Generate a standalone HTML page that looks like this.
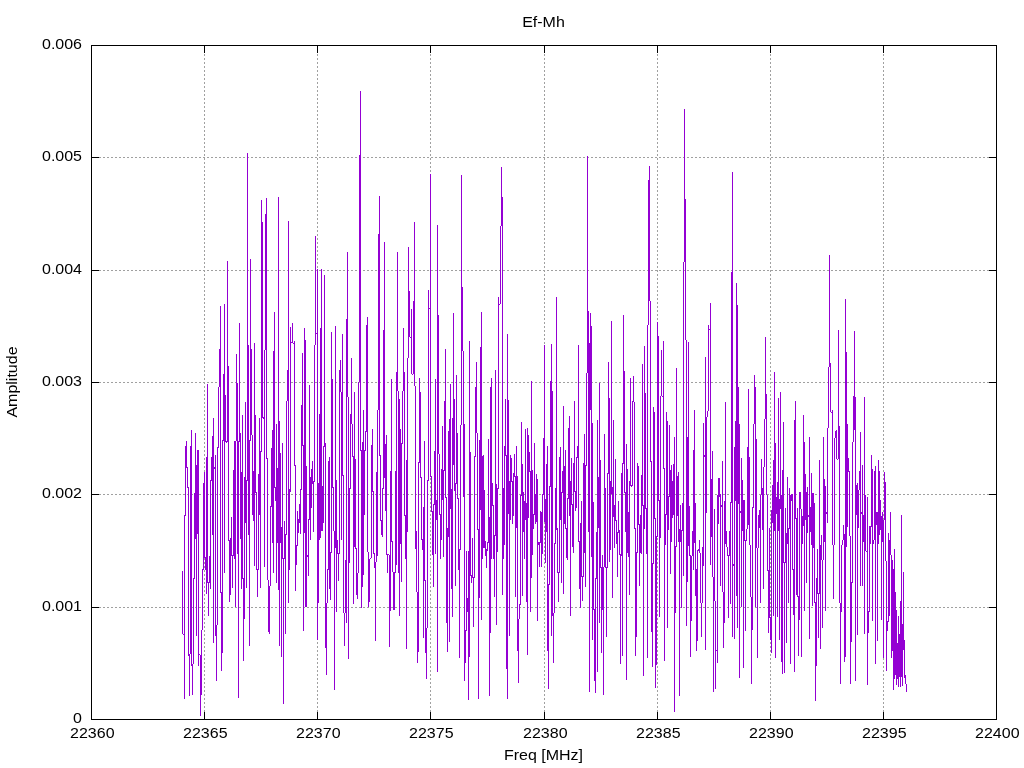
<!DOCTYPE html><html><head><meta charset="utf-8"><title>Ef-Mh</title><style>html,body{margin:0;padding:0;background:#fff;}svg{display:block;}text{font-family:"Liberation Sans",Arial,sans-serif;font-size:16px;fill:#000;}</style></head><body><svg width="1024" height="768" viewBox="0 0 1024 768"><rect width="1024" height="768" fill="#fff"/><path d="M204.5 720V45M317.5 720V45M430.5 720V45M544.5 720V45M657.5 720V45M770.5 720V45M883.5 720V45M91 607.5H997M91 494.5H997M91 382.5H997M91 270.5H997M91 157.5H997" stroke="#a0a0a0" stroke-width="1" stroke-dasharray="2 2" fill="none" shape-rendering="crispEdges"/><path d="M182.5 571V634M183.5 634V635M184.5 515V699M185.5 446V516M186.5 441V468M187.5 467V488M188.5 487V656M189.5 654V696M190.5 446V654M191.5 430V666M192.5 664V695M193.5 578V664M194.5 493V579M195.5 433V539M196.5 465V636M197.5 450V534M198.5 450V666M199.5 654V655M200.5 655V716M201.5 630V695M202.5 569V630M203.5 483V570M204.5 472V558M205.5 557V570M206.5 457V594M207.5 384V583M208.5 582V616M209.5 556V583M210.5 480V589M211.5 457V481M212.5 436V535M213.5 418V643M214.5 467V469M215.5 455V636M216.5 625V681M217.5 447V625M218.5 387V448M219.5 349V387M220.5 306V593M221.5 592V671M222.5 440V653M223.5 374V441M224.5 304V573M225.5 395V442M226.5 441V443M227.5 261V442M228.5 366V541M229.5 540V602M230.5 538V595M231.5 517V556M232.5 555V588M233.5 470V556M234.5 441V559M235.5 441V607M236.5 354V441M237.5 383V554M238.5 441V698M239.5 323V442M240.5 433V539M241.5 472V589M242.5 415V579M243.5 578V661M244.5 477V619M245.5 402V523M246.5 480V588M247.5 153V481M248.5 345V535M249.5 440V646M250.5 259V441M251.5 349V435M252.5 435V515M253.5 471V521M254.5 343V566M255.5 415V493M256.5 492V570M257.5 569V597M258.5 474V570M259.5 418V515M260.5 451V588M261.5 200V452M262.5 222V418M263.5 417V419M264.5 350V567M265.5 214V350M266.5 198V459M267.5 458V580M268.5 580V632M269.5 586V634M270.5 506V586M271.5 448V507M272.5 430V543M273.5 351V573M274.5 312V488M275.5 487V501M276.5 424V583M277.5 468V543M278.5 197V590M279.5 421V646M280.5 453V543M281.5 527V657M282.5 443V559M283.5 558V704M284.5 521V559M285.5 534V634M286.5 401V535M287.5 370V401M288.5 221V603M289.5 489V570M290.5 327V492M291.5 342V343M292.5 323V343M293.5 343V344M294.5 341V466M295.5 465V591M296.5 545V565M297.5 511V546M298.5 519V533M299.5 504V523M300.5 489V534M301.5 405V490M302.5 353V446M303.5 445V631M304.5 328V533M305.5 340V607M306.5 466V607M307.5 555V557M308.5 519V576M309.5 385V520M310.5 477V540M311.5 469V508M312.5 461V484M313.5 481V532M314.5 345V482M315.5 236V345M316.5 333V334M317.5 269V640M318.5 483V603M319.5 414V540M320.5 328V538M321.5 269V531M322.5 486V531M323.5 446V523M324.5 275V447M325.5 443V648M326.5 603V675M327.5 569V603M328.5 461V570M329.5 457V589M330.5 552V600M331.5 332V553M332.5 379V488M333.5 487V531M334.5 531V690M335.5 326V548M336.5 480V612M337.5 540V554M338.5 553V581M339.5 370V554M340.5 360V392M341.5 392V540M342.5 334V476M343.5 475V613M344.5 613V646M345.5 560V613M346.5 319V623M347.5 252V397M348.5 397V659M349.5 488V563M350.5 414V489M351.5 358V424M352.5 424V457M353.5 456V604M354.5 392V547M355.5 459V549M356.5 548V595M357.5 573V599M358.5 382V573M359.5 155V382M360.5 91V451M361.5 450V608M362.5 442V587M363.5 410V575M364.5 450V515M365.5 431V451M366.5 325V432M367.5 317V552M368.5 552V607M369.5 559V602M370.5 558V559M371.5 445V558M372.5 429V492M373.5 491V554M374.5 553V568M375.5 562V641M376.5 472V562M377.5 410V556M378.5 234V410M379.5 196V456M380.5 455V521M381.5 520V535M382.5 488V537M383.5 330V489M384.5 242V478M385.5 444V511M386.5 435V555M387.5 554V573M388.5 554V555M389.5 555V647M390.5 471V611M391.5 379V542M392.5 541V572M393.5 572V610M394.5 572V610M395.5 471V573M396.5 372V565M397.5 252V391M398.5 391V573M399.5 399V616M400.5 429V544M401.5 443V582M402.5 391V444M403.5 328V391M404.5 372V516M405.5 515V559M406.5 460V649M407.5 358V532M408.5 247V358M409.5 291V337M410.5 337V338M411.5 309V374M412.5 374V375M413.5 301V374M414.5 222V386M415.5 386V549M416.5 531V592M417.5 592V663M418.5 462V652M419.5 378V463M420.5 392V478M421.5 477V540M422.5 539V550M423.5 507V638M424.5 441V581M425.5 580V653M426.5 628V679M427.5 480V628M428.5 290V481M429.5 308V309M430.5 174V477M431.5 476V512M432.5 511V555M433.5 504V587M434.5 451V505M435.5 379V554M436.5 500V520M437.5 225V672M438.5 315V454M439.5 454V515M440.5 514V559M441.5 469V540M442.5 426V500M443.5 470V557M444.5 401V471M445.5 349V498M446.5 497V623M447.5 528V652M448.5 431V537M449.5 419V642M450.5 384V509M451.5 489V589M452.5 418V617M453.5 313V465M454.5 399V491M455.5 483V586M456.5 375V484M457.5 433V499M458.5 498V570M459.5 549V658M460.5 425V550M461.5 175V425M462.5 287V351M463.5 351V497M464.5 424V681M465.5 630V663M466.5 551V631M467.5 598V612M468.5 551V700M469.5 341V657M470.5 452V576M471.5 575V583M472.5 538V578M473.5 577V627M474.5 456V578M475.5 387V457M476.5 362V433M477.5 433V530M478.5 529V699M479.5 440V598M480.5 347V510M481.5 312V620M482.5 456V559M483.5 455V548M484.5 490V548M485.5 541V556M486.5 549V568M487.5 542V551M488.5 439V543M489.5 517V696M490.5 387V633M491.5 378V559M492.5 483V506M493.5 505V559M494.5 535V597M495.5 370V536M496.5 484V625M497.5 488V552M498.5 297V489M499.5 304V305M500.5 226V304M501.5 167V226M502.5 197V595M503.5 488V559M504.5 446V545M505.5 399V456M506.5 455V669M507.5 334V699M508.5 400V514M509.5 481V636M510.5 455V520M511.5 458V482M512.5 481V524M513.5 473V516M514.5 454V477M515.5 476V597M516.5 446V528M517.5 476V651M518.5 619V683M519.5 604V619M520.5 495V605M521.5 422V496M522.5 464V596M523.5 492V532M524.5 501V559M525.5 429V520M526.5 503V602M527.5 428V655M528.5 435V518M529.5 452V472M530.5 471V612M531.5 381V578M532.5 470V555M533.5 514V529M534.5 443V515M535.5 494V524M536.5 474V522M537.5 479V621M538.5 542V545M539.5 542V567M540.5 511V543M541.5 512V567M542.5 494V554M543.5 438V495M544.5 345V522M545.5 499V563M546.5 464V532M547.5 446V651M548.5 584V689M549.5 486V585M550.5 381V487M551.5 344V636M552.5 391V616M553.5 613V663M554.5 543V613M555.5 488V544M556.5 297V530M557.5 528V573M558.5 572V602M559.5 457V573M560.5 447V520M561.5 492V583M562.5 471V493M563.5 406V594M564.5 466V524M565.5 450V529M566.5 528V558M567.5 498V560M568.5 428V499M569.5 416V516M570.5 481V616M571.5 458V505M572.5 504V547M573.5 463V553M574.5 401V492M575.5 491V511M576.5 457V508M577.5 446V458M578.5 345V542M579.5 541V589M580.5 523V608M581.5 501V577M582.5 576V601M583.5 463V577M584.5 434V553M585.5 465V587M586.5 373V466M587.5 156V373M588.5 311V532M589.5 343V692M590.5 313V410M591.5 326V557M592.5 423V640M593.5 502V610M594.5 609V681M595.5 578V693M596.5 532V579M597.5 420V672M598.5 477V528M599.5 383V623M600.5 460V568M601.5 567V653M602.5 555V610M603.5 567V695M604.5 434V567M605.5 488V568M606.5 567V637M607.5 473V568M608.5 362V474M609.5 398V562M610.5 481V550M611.5 321V494M612.5 487V598M613.5 420V517M614.5 505V548M615.5 459V521M616.5 520V544M617.5 532V577M618.5 501V533M619.5 530V555M620.5 554V664M621.5 473V556M622.5 463V656M623.5 315V464M624.5 371V493M625.5 492V532M626.5 444V680M627.5 469V553M628.5 512V557M629.5 481V595M630.5 378V486M631.5 485V487M632.5 401V486M633.5 376V402M634.5 402V529M635.5 528V656M636.5 552V637M637.5 463V553M638.5 466V525M639.5 524V586M640.5 515V553M641.5 475V554M642.5 364V506M643.5 505V676M644.5 346V529M645.5 393V509M646.5 508V554M647.5 325V658M648.5 180V325M649.5 166V301M650.5 301V462M651.5 461V632M652.5 563V667M653.5 407V564M654.5 412V519M655.5 518V688M656.5 536V665M657.5 322V537M658.5 336V501M659.5 500V617M660.5 396V538M661.5 350V396M662.5 396V397M663.5 341V469M664.5 468V661M665.5 514V545M666.5 412V515M667.5 421V628M668.5 496V530M669.5 425V497M670.5 470V574M671.5 465V542M672.5 481V518M673.5 464V515M674.5 437V712M675.5 546V613M676.5 368V547M677.5 476V516M678.5 472V542M679.5 529V696M680.5 505V542M681.5 530V608M682.5 503V531M683.5 262V576M684.5 109V262M685.5 199V340M686.5 340V626M687.5 437V582M688.5 342V546M689.5 506V556M690.5 555V657M691.5 556V621M692.5 531V556M693.5 450V570M694.5 410V543M695.5 503V596M696.5 569V651M697.5 550V641M698.5 549V551M699.5 540V553M700.5 553V603M701.5 603V637M702.5 547V603M703.5 423V566M704.5 455V457M705.5 357V650M706.5 417V513M707.5 411V417M708.5 325V411M709.5 329V330M710.5 303V565M711.5 479V537M712.5 451V577M713.5 577V692M714.5 509V601M715.5 601V689M716.5 650V651M717.5 495V663M718.5 478V524M719.5 478V497M720.5 494V586M721.5 505V507M722.5 461V592M723.5 592V648M724.5 501V623M725.5 402V544M726.5 531V547M727.5 547V556M728.5 555V618M729.5 531V556M730.5 502V604M731.5 272V503M732.5 172V637M733.5 564V566M734.5 447V639M735.5 421V501M736.5 283V596M737.5 305V628M738.5 387V504M739.5 424V678M740.5 511V513M741.5 458V607M742.5 480V531M743.5 500V668M744.5 500V541M745.5 540V631M746.5 529V541M747.5 447V529M748.5 389V525M749.5 457V545M750.5 545V597M751.5 597V684M752.5 507V630M753.5 424V508M754.5 375V424M755.5 387V607M756.5 439V548M757.5 548V658M758.5 515V548M759.5 510V528M760.5 495V603M761.5 459V495M762.5 488V530M763.5 467V589M764.5 419V467M765.5 337V419M766.5 394V495M767.5 495V571M768.5 570V633M769.5 528V618M770.5 617V640M771.5 510V653M772.5 485V523M773.5 460V616M774.5 372V531M775.5 443V658M776.5 497V514M777.5 482V617M778.5 398V531M779.5 499V640M780.5 392V509M781.5 495V662M782.5 470V674M783.5 422V563M784.5 562V673M785.5 508V563M786.5 533V643M787.5 477V544M788.5 528V603M789.5 488V529M790.5 495V664M791.5 494V501M792.5 494V570M793.5 569V615M794.5 420V672M795.5 401V519M796.5 518V595M797.5 508V597M798.5 596V656M799.5 492V620M800.5 492V509M801.5 509V657M802.5 516V544M803.5 415V526M804.5 442V611M805.5 474V520M806.5 492V583M807.5 487V533M808.5 515V517M809.5 437V639M810.5 507V532M811.5 473V545M812.5 493V606M813.5 493V548M814.5 503V603M815.5 602V701M816.5 578V666M817.5 549V594M818.5 593V638M819.5 460V594M820.5 545V649M821.5 535V560M822.5 560V628M823.5 437V560M824.5 479V542M825.5 486V611M826.5 512V514M827.5 428V523M828.5 367V428M829.5 255V367M830.5 363V412M831.5 412V413M832.5 410V545M833.5 545V599M834.5 438V545M835.5 431V438M836.5 430V459M837.5 459V460M838.5 330V459M839.5 426V603M840.5 603V684M841.5 545V612M842.5 540V545M843.5 525V540M844.5 534V662M845.5 299V657M846.5 352V547M847.5 424V527M848.5 458V472M849.5 471V536M850.5 536V684M851.5 582V642M852.5 442V583M853.5 396V442M854.5 331V430M855.5 397V681M856.5 485V515M857.5 483V635M858.5 490V528M859.5 471V490M860.5 432V586M861.5 512V514M862.5 465V586M863.5 515V542M864.5 397V634M865.5 495V551M866.5 551V552M867.5 497V685M868.5 611V633M869.5 526V612M870.5 526V544M871.5 455V527M872.5 469V621M873.5 540V544M874.5 471V540M875.5 466V664M876.5 512V525M877.5 512V641M878.5 460V544M879.5 471V535M880.5 500V530M881.5 516V620M882.5 512V542M883.5 520V658M884.5 472V520M885.5 482V561M886.5 561V671M887.5 621V631M888.5 533V622M889.5 540V616M890.5 512V555M891.5 555V658M892.5 560V651M893.5 569V690M894.5 549V679M895.5 592V675M896.5 610V685M897.5 643V679M898.5 616V687M899.5 634V677M900.5 601V687M901.5 515V677M902.5 624V686M903.5 572V650M904.5 640V678M905.5 675V684M906.5 684V692" fill="none" stroke="#9400d3" stroke-width="1" shape-rendering="crispEdges"/><path d="M91 45h906v1h-906zM91 719h906v1h-906zM91 45h1v675h-1zM996 45h1v675h-1zM91 712h1v8h-1zM91 45h1v8h-1zM204 712h1v8h-1zM204 45h1v8h-1zM317 712h1v8h-1zM317 45h1v8h-1zM430 712h1v8h-1zM430 45h1v8h-1zM544 712h1v8h-1zM544 45h1v8h-1zM657 712h1v8h-1zM657 45h1v8h-1zM770 712h1v8h-1zM770 45h1v8h-1zM883 712h1v8h-1zM883 45h1v8h-1zM996 712h1v8h-1zM996 45h1v8h-1zM91 719h8v1h-8zM989 719h8v1h-8zM91 607h8v1h-8zM989 607h8v1h-8zM91 494h8v1h-8zM989 494h8v1h-8zM91 382h8v1h-8zM989 382h8v1h-8zM91 270h8v1h-8zM989 270h8v1h-8zM91 157h8v1h-8zM989 157h8v1h-8zM91 45h8v1h-8zM989 45h8v1h-8z" fill="#000" shape-rendering="crispEdges"/><text transform="translate(82 723) scale(1 0.93)" text-anchor="end">0</text><text transform="translate(82 611) scale(1 0.93)" text-anchor="end">0.001</text><text transform="translate(82 498) scale(1 0.93)" text-anchor="end">0.002</text><text transform="translate(82 386) scale(1 0.93)" text-anchor="end">0.003</text><text transform="translate(82 274) scale(1 0.93)" text-anchor="end">0.004</text><text transform="translate(82 161) scale(1 0.93)" text-anchor="end">0.005</text><text transform="translate(82 49) scale(1 0.93)" text-anchor="end">0.006</text><text transform="translate(92.3 738) scale(1 0.93)" text-anchor="middle">22360</text><text transform="translate(205.3 738) scale(1 0.93)" text-anchor="middle">22365</text><text transform="translate(318.3 738) scale(1 0.93)" text-anchor="middle">22370</text><text transform="translate(431.3 738) scale(1 0.93)" text-anchor="middle">22375</text><text transform="translate(545.3 738) scale(1 0.93)" text-anchor="middle">22380</text><text transform="translate(658.3 738) scale(1 0.93)" text-anchor="middle">22385</text><text transform="translate(771.3 738) scale(1 0.93)" text-anchor="middle">22390</text><text transform="translate(884.3 738) scale(1 0.93)" text-anchor="middle">22395</text><text transform="translate(997.3 738) scale(1 0.93)" text-anchor="middle">22400</text><text transform="translate(543.5 27) scale(1 0.93)" text-anchor="middle">Ef-Mh</text><text transform="translate(543.5 760) scale(1 0.93)" text-anchor="middle">Freq [MHz]</text><text x="0" y="0" text-anchor="middle" transform="translate(16.5 382) rotate(-90) scale(1 0.93)">Amplitude</text></svg></body></html>
